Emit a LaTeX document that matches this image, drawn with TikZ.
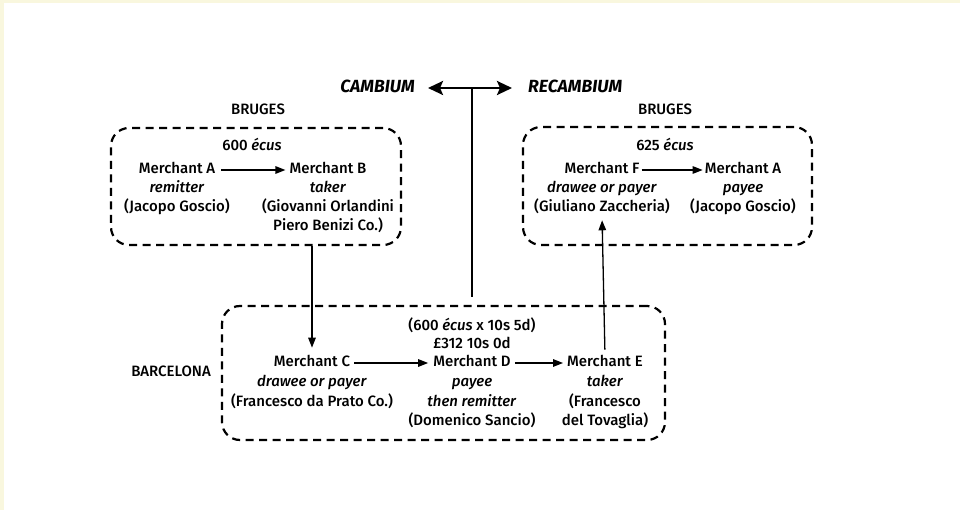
\documentclass[tikz,border=0pt]{standalone}
\usepackage{fontspec}
\setmainfont{Fira Sans}[UprightFont={* Medium}, ItalicFont={* Medium Italic}, BoldFont={* Bold}, BoldItalicFont={* Bold Italic}]
\usetikzlibrary{arrows.meta}
\definecolor{cream}{RGB}{249,247,222}
\tikzset{
  txt/.style={font=\fontsize{15}{18}\selectfont, inner sep=0pt, text height=11pt, text depth=3.2pt, anchor=center},
  head/.style={font=\fontsize{17.6}{20}\selectfont\bfseries\itshape, inner sep=0pt, text height=12.5pt, text depth=3pt},
  place/.style={txt},
  dbox/.style={draw=black, line width=2.2pt, dash pattern=on 8pt off 5.5pt, rounded corners=18pt, minimum width=#1, inner sep=0pt},
  arr/.style={draw=black, line width=1.3pt, -{Triangle[length=10pt,width=7.5pt]}},
  dbl/.style={draw=black, line width=2.6pt, {Stealth[length=15pt,width=14pt,inset=3pt]}-{Stealth[length=15pt,width=14pt,inset=3pt]}},
  stem/.style={draw=black, line width=2.6pt}
}
\begin{document}
\begin{tikzpicture}[x=1pt,y=-1pt]
\useasboundingbox (0,0) rectangle (960,510);
\fill[white] (0,0) rectangle (960,510);
\fill[cream] (0,0) rectangle (960,3);
\fill[cream] (0,0) rectangle (4,510);

% boxes
\node[dbox=290pt, minimum height=117pt] (box1) at (256,186.5) {};
\node[dbox=289pt, minimum height=118pt] (box2) at (667.5,186) {};
\node[dbox=443pt, minimum height=134pt] (box3) at (443.5,373) {};

% headings
\node[head, anchor=east] (cam) at (415,88) {CAMBIUM};
\node[head, anchor=west] (recam) at (528,88) {RECAMBIUM};
\coordinate (stemtop) at (472,88);

\node[place] (bl) at (258,111) {BRUGES};
\node[place] (br) at (665,111) {BRUGES};
\node[place] (barc) at (171,373) {BARCELONA};

% left Bruges box
\node[txt] (e600) at (252,147) {600 \textit{écus}};
\node[txt] (mA) at (177,170) {Merchant A};
\node[txt] (rA) at (177,189) {\textit{remitter}};
\node[txt] (nA) at (177,208) {(Jacopo Goscio)};
\node[txt] (mB) at (328,170) {Merchant B};
\node[txt] (rB) at (328,189) {\textit{taker}};
\node[txt] (nB1) at (328,208) {(Giovanni Orlandini};
\node[txt] (nB2) at (328,227) {Piero Benizi Co.)};

% right Bruges box
\node[txt] (e625) at (665,147) {625 \textit{écus}};
\node[txt] (mF) at (602,170) {Merchant F};
\node[txt] (rF) at (602,189) {\textit{drawee or payer}};
\node[txt] (nF) at (602,208) {(Giuliano Zaccheria)};
\node[txt] (mA2) at (743,170) {Merchant A};
\node[txt] (rA2) at (743,189) {\textit{payee}};
\node[txt] (nA2) at (743,208) {(Jacopo Goscio)};

% Barcelona box
\node[txt] (calc1) at (472,327) {(600 \textit{écus} x 10s 5d)};
\node[txt] (calc2) at (472,345) {£312 10s 0d};
\node[txt] (mC) at (312,363) {Merchant C};
\node[txt] (rC) at (312,383) {\textit{drawee or payer}};
\node[txt] (nC) at (312,403) {(Francesco da Prato Co.)};
\node[txt] (mD) at (472,363) {Merchant D};
\node[txt] (rD) at (472,383) {\textit{payee}};
\node[txt] (rD2) at (472,403) {\textit{then remitter}};
\node[txt] (nD) at (472,422) {(Domenico Sancio)};
\node[txt] (mE) at (605,363) {Merchant E};
\node[txt] (rE) at (605,383) {\textit{taker}};
\node[txt] (nE1) at (605,403) {(Francesco};
\node[txt] (nE2) at (605,422) {del Tovaglia)};

% connectors
\draw[arr, shorten <=6pt, shorten >=4pt] (mA.east) -- (mB.west);
\draw[arr, shorten <=2pt, shorten >=2pt] (mF.east) -- (mA2.west);
\draw[arr, shorten <=4pt, shorten >=5pt] (mC.east) -- (mD.west);
\draw[arr, shorten <=4pt, shorten >=4pt] (mD.east) -- (mE.west);
\draw[arr, shorten >=8pt] (box1.south -| mC.north) -- (mC.north);
\draw[arr, shorten <=6pt, shorten >=5pt] (mE.north) -- (nF.south);
\draw[stem, shorten >=8pt] (stemtop) -- (stemtop |- box3.north);
\draw[dbl, shorten <=13pt, shorten >=16pt] (cam.east) -- (recam.west);
\end{tikzpicture}
\end{document}
